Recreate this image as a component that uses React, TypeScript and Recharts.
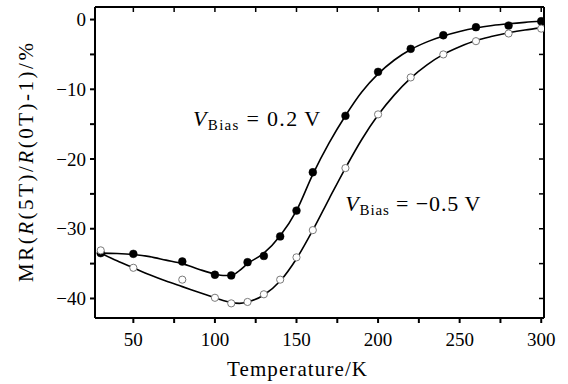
import React from 'react';
import { ComposedChart, Line, Scatter, XAxis, YAxis, ReferenceDot } from 'recharts';

const temps = [30, 50, 80, 100, 110, 120, 130, 140, 150, 160, 180, 200, 220, 240, 260, 280, 300];
const mrPos = [-33.5, -33.6, -34.7, -36.6, -36.7, -34.8, -33.9, -31.1, -27.4, -21.9, -13.8, -7.5, -4.2, -2.25, -1.1, -0.86, -0.24];
const mrNeg = [-33.1, -35.6, -37.3, -39.9, -40.7, -40.5, -39.4, -37.3, -34.1, -30.2, -21.3, -13.6, -8.3, -5.0, -3.1, -2.0, -1.3];

const fitTemps = [30, 40, 50, 60, 70, 80, 90, 100, 105, 110, 115, 120, 130, 140, 150, 160, 170, 180, 190, 200, 210, 220, 230, 240, 250, 260, 270, 280, 290, 300];
const fitPos = [-33.5, -33.55, -33.7, -34.0, -34.5, -35.0, -35.8, -36.5, -36.7, -36.7, -36.0, -35.0, -33.5, -31.0, -27.4, -22.2, -17.7, -13.8, -10.4, -7.8, -5.8, -4.3, -3.2, -2.35, -1.7, -1.2, -0.85, -0.6, -0.4, -0.25];
const fitNeg = [-33.5, -34.6, -35.6, -36.6, -37.5, -38.3, -39.1, -39.9, -40.3, -40.6, -40.7, -40.5, -39.5, -37.5, -34.3, -30.2, -25.7, -21.3, -17.2, -13.7, -10.8, -8.4, -6.5, -5.0, -3.9, -3.0, -2.4, -1.9, -1.5, -1.2];

const xTicks = [50, 75, 100, 125, 150, 175, 200, 225, 250, 275, 300];
const yTicks = [0, -5, -10, -15, -20, -25, -30, -35, -40];
const xDomain = [26.5, 301.7];
const yDomain = [-42.8, 1.8];

const labelPos = { t: 86.6, v: -15.2, text: '0.2' };
const labelNeg = { t: 179.9, v: -27.5, text: '\u22120.5' };

const pointsPos = temps.map((t, i) => ({ T: t, v: mrPos[i] }));
const pointsNeg = temps.map((t, i) => ({ T: t, v: mrNeg[i] }));
const curvePos = fitTemps.map((t, i) => ({ T: t, v: fitPos[i] }));
const curveNeg = fitTemps.map((t, i) => ({ T: t, v: fitNeg[i] }));

const FONT = '"Liberation Serif", "DejaVu Serif", serif';

const fmtX = (v: number) => (v % 50 === 0 ? String(v) : '');
const fmtY = (v: number) => (v % 10 === 0 ? (v < 0 ? '\u2212' + String(-v) : String(v)) : '');

const FilledDot = (p: any) => <circle cx={p.cx} cy={p.cy} r={3.9} fill="#000" stroke="#000" strokeWidth={0.5} />;
const OpenDot = (p: any) => <circle cx={p.cx} cy={p.cy} r={3.6} fill="#fff" stroke="#7a7a7a" strokeWidth={1} />;

const biasLabel = (val: string, len: number) => (props: any) => {
  const vb = props.viewBox || {};
  const x = vb.x ?? 0;
  const y = vb.y ?? 0;
  return (
    <text x={x} y={y} fontFamily={FONT} fontSize={22} fill="#000" textLength={len} lengthAdjust="spacing">
      <tspan fontStyle="italic">V</tspan>
      <tspan fontSize={15} dy={4}>Bias</tspan>
      <tspan dy={-4}>{'\u00A0=\u00A0' + val + '\u2009V'}</tspan>
    </text>
  );
};

const YLabel = (props: any) => {
  const vb = props.viewBox || { x: 0, y: 0, width: 95, height: 311 };
  const cx = 26;
  const cy = vb.y + vb.height / 2;
  return (
    <text
      x={cx}
      y={cy}
      transform={`rotate(-90 ${cx} ${cy})`}
      textAnchor="middle"
      dominantBaseline="central"
      fontFamily={FONT}
      fontSize={21}
      fill="#000"
      textLength={239}
      lengthAdjust="spacing"
    >
      <tspan>MR(</tspan>
      <tspan fontStyle="italic">R</tspan>
      <tspan>(5T)/</tspan>
      <tspan fontStyle="italic">R</tspan>
      <tspan>(0T)-1)/%</tspan>
    </text>
  );
};

const XLabel = () => (
  <text x={297} y={376} textAnchor="middle" fontFamily={FONT} fontSize={21} fill="#000" textLength={140} lengthAdjust="spacing">
    Temperature/K
  </text>
);

// inward tick marks for the top and right frame edges
const TopTick = (p: any) => <line x1={p.x} y1={p.y} x2={p.x} y2={p.y + 5} stroke="#000" strokeWidth={1.5} />;
const RightTick = (p: any) => <line x1={p.x} y1={p.y} x2={p.x - 5} y2={p.y} stroke="#000" strokeWidth={1.5} />;

export default function App() {
  return (
    <div style={{ position: 'absolute', left: 0, top: 0, width: 568, height: 384, background: '#fff' }}>
      <ComposedChart width={568} height={384} margin={{ top: 6, right: 23, bottom: 0, left: 0 }}>
        <XAxis
          xAxisId="bottom"
          dataKey="T"
          type="number"
          domain={xDomain}
          allowDataOverflow
          ticks={xTicks}
          tickFormatter={fmtX}
          height={66}
          tickSize={5}
          tickMargin={10}
          stroke="#000"
          strokeWidth={2}
          tick={{ fill: '#000', fontSize: 19, fontFamily: FONT }}
          label={{ content: XLabel }}
        />
        <XAxis
          xAxisId="top"
          orientation="top"
          dataKey="T"
          type="number"
          domain={xDomain}
          allowDataOverflow
          ticks={xTicks}
          height={1}
          tickLine={false}
          tickSize={0}
          tickMargin={0}
          tick={TopTick}
          stroke="#000"
          strokeWidth={2}
        />
        <YAxis
          yAxisId="left"
          type="number"
          domain={yDomain}
          allowDataOverflow
          ticks={yTicks}
          tickFormatter={fmtY}
          width={95}
          tickSize={5}
          tickMargin={4}
          stroke="#000"
          strokeWidth={2}
          tick={{ fill: '#000', fontSize: 19, fontFamily: FONT }}
          label={{ content: YLabel }}
        />
        <YAxis
          yAxisId="right"
          orientation="right"
          type="number"
          domain={yDomain}
          allowDataOverflow
          ticks={yTicks}
          width={1}
          tickLine={false}
          tickSize={0}
          tickMargin={0}
          tick={RightTick}
          stroke="#000"
          strokeWidth={2}
        />
        <Line xAxisId="bottom" yAxisId="left" data={curvePos} dataKey="v" type="monotone" stroke="#000" strokeWidth={1.6} dot={false} isAnimationActive={false} />
        <Line xAxisId="bottom" yAxisId="left" data={curveNeg} dataKey="v" type="monotone" stroke="#000" strokeWidth={1.6} dot={false} isAnimationActive={false} />
        <Scatter xAxisId="bottom" yAxisId="left" data={pointsPos} dataKey="v" shape={FilledDot} isAnimationActive={false} />
        <Scatter xAxisId="bottom" yAxisId="left" data={pointsNeg} dataKey="v" shape={OpenDot} isAnimationActive={false} />
        <ReferenceDot xAxisId="bottom" yAxisId="left" x={labelPos.t} y={labelPos.v} r={0} fill="none" stroke="none" label={{ content: biasLabel(labelPos.text, 127) }} />
        <ReferenceDot xAxisId="bottom" yAxisId="left" x={labelNeg.t} y={labelNeg.v} r={0} fill="none" stroke="none" label={{ content: biasLabel(labelNeg.text, 135) }} />
      </ComposedChart>
    </div>
  );
}
